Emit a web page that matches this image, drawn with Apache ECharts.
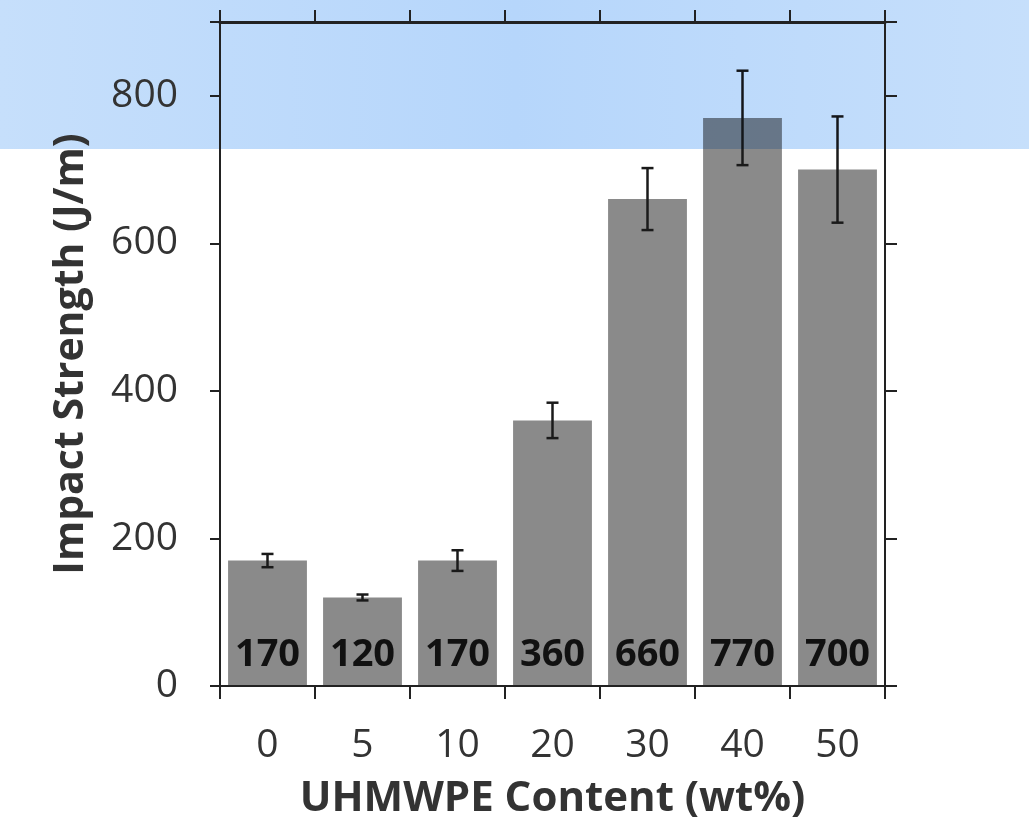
<!DOCTYPE html>
<html>
<head>
<meta charset="utf-8">
<script src="https://cdn.jsdelivr.net/npm/echarts@6/dist/echarts.min.js"></script>
<style>
  html,body{margin:0;padding:0;background:#fff;}
  #chart{width:1029px;height:838px;}
</style>
</head>
<body>
<div id="chart"></div>
<script>
// data
let contents=["0","5","10","20","30","40","50"];
let strength=[170,120,170,360,660,770,700];
let errs=[9,4,14,24,42,64,72];
let yTicks=[0,200,400,600,800];

let font="'Open Sans', 'DejaVu Sans', sans-serif";
let axisColor="#222";

var myChart=echarts.init(document.getElementById("chart"));

let errData=strength.map(function(v,i){
    return [i,v-errs[i],v+errs[i]];
});

var option={
    animation:false,
    backgroundColor:"#fff",
    grid:{left:220,right:144,top:22,bottom:152},
    xAxis:[{
        type:"category",
        data:contents,
        position:"bottom",
        z:10,
        axisLine:{onZero:false,lineStyle:{color:axisColor,width:2}},
        axisTick:{show:true,length:13,lineStyle:{color:axisColor,width:2}},
        axisLabel:{color:"#333",fontSize:39,fontFamily:font,margin:40},
        name:"UHMWPE Content (wt%)",
        nameLocation:"middle",
        nameGap:92,
        nameTextStyle:{color:"#333",fontSize:42,fontWeight:"bold",fontFamily:font}
    },{
        type:"category",
        data:contents,
        position:"top",
        z:10,
        axisLine:{show:true,onZero:false,lineStyle:{color:axisColor,width:3}},
        axisTick:{show:true,length:12,lineStyle:{color:axisColor,width:2}},
        axisLabel:{show:false}
    }],
    yAxis:[{
        type:"value",
        min:0,max:900,interval:200,
        position:"left",
        z:10,
        splitLine:{show:false},
        axisLine:{show:true,onZero:false,lineStyle:{color:axisColor,width:2}},
        axisTick:{show:true,length:10,lineStyle:{color:axisColor,width:2}},
        axisLabel:{
            color:"#333",fontSize:39,fontFamily:font,margin:42,
            formatter:function(v){return yTicks.indexOf(v)>=0?String(v):"";}
        },
        name:"Impact Strength (J/m)",
        nameLocation:"middle",
        nameGap:128,
        nameTextStyle:{color:"#333",fontSize:41,fontWeight:"bold",fontFamily:font}
    },{
        type:"value",
        min:0,max:900,interval:200,
        position:"right",
        z:10,
        splitLine:{show:false},
        axisLine:{show:true,onZero:false,lineStyle:{color:axisColor,width:2}},
        axisTick:{show:true,length:12,lineStyle:{color:axisColor,width:2}},
        axisLabel:{show:false}
    }],
    series:[{
        type:"bar",
        data:strength,
        barCategoryGap:"17%",
        itemStyle:{color:"#8a8a8a"},
        label:{
            show:true,
            position:"insideBottom",
            distance:12,
            color:"#111",
            fontSize:38,
            fontWeight:"bold",
            fontFamily:font
        },
        z:2
    },{
        type:"custom",
        data:errData,
        z:3,
        renderItem:function(params,api){
            let i=api.value(0);
            let lo=api.coord([i,api.value(1)]);
            let hi=api.coord([i,api.value(2)]);
            let hw=6;
            let st={stroke:"#1a1a1a",lineWidth:2.5};
            return {
                type:"group",
                children:[
                    {type:"line",shape:{x1:lo[0],y1:lo[1],x2:hi[0],y2:hi[1]},style:st},
                    {type:"line",shape:{x1:lo[0]-hw,y1:lo[1],x2:lo[0]+hw,y2:lo[1]},style:st},
                    {type:"line",shape:{x1:hi[0]-hw,y1:hi[1],x2:hi[0]+hw,y2:hi[1]},style:st}
                ]
            };
        }
    }],
    graphic:[{
        type:"rect",
        left:0,top:0,
        shape:{width:1029,height:149},
        z:5,
        silent:true,
        style:{
            fill:{
                type:"linear",x:0,y:0,x2:1,y2:0,
                colorStops:[
                    {offset:0,color:"#c6dffb"},
                    {offset:0.5,color:"#b6d6fb"},
                    {offset:1,color:"#c6dffb"}
                ]
            },
            blend:"multiply"
        }
    }]
};

myChart.setOption(option);
</script>
</body>
</html>
